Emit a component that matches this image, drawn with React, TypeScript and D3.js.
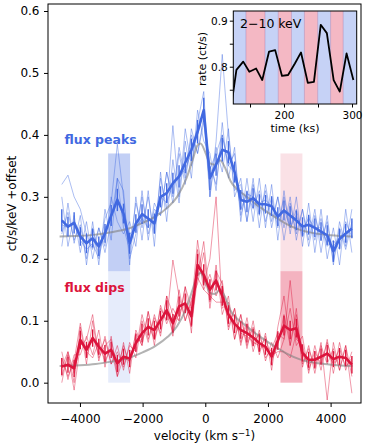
import React, { useEffect, useRef } from "react";
import * as d3 from "d3";

const width = 365;
const height = 447;
// main axes box: 48..361 x 4..403
const margin = { top: 4, right: 4, bottom: 44, left: 48 };
// inset axes box
const inset = { x0: 233.3, x1: 356.7, y0: 11, y1: 104 };

const font = "'DejaVu Sans', Verdana, sans-serif";
const blue = "#4169e1";
const red = "#dc143c";

// velocity bin centres (km/s)
const velocity = [
  -4580, -4383, -4186, -3989, -3792, -3595, -3398, -3201, -3004, -2807, -2610, -2413,
  -2216, -2019, -1822, -1625, -1428, -1231, -1034, -837, -640, -443, -246, -49,
  148, 345, 542, 739, 936, 1133, 1330, 1527, 1724, 1921, 2118, 2315,
  2512, 2709, 2906, 3103, 3300, 3497, 3694, 3891, 4088, 4285, 4482, 4679,
];

// flux peaks: stacked mean (+offset) and its errors
const peaksMean = [
  0.262, 0.252, 0.258, 0.236, 0.225, 0.233, 0.22, 0.241, 0.27, 0.295, 0.273, 0.225,
  0.257, 0.272, 0.265, 0.257, 0.3, 0.306, 0.322, 0.333, 0.355, 0.376, 0.405, 0.44,
  0.33, 0.352, 0.376, 0.372, 0.34, 0.295, 0.292, 0.298, 0.288, 0.288, 0.285, 0.268,
  0.278, 0.27, 0.262, 0.252, 0.255, 0.25, 0.244, 0.238, 0.212, 0.232, 0.241, 0.249,
];
const peaksErr = [
  0.018, 0.016, 0.017, 0.015, 0.016, 0.015, 0.016, 0.015, 0.017, 0.018, 0.016, 0.017,
  0.015, 0.016, 0.015, 0.016, 0.017, 0.016, 0.017, 0.018, 0.017, 0.018, 0.019, 0.02,
  0.019, 0.018, 0.019, 0.018, 0.017, 0.016, 0.017, 0.016, 0.016, 0.015, 0.016, 0.015,
  0.016, 0.015, 0.016, 0.015, 0.016, 0.015, 0.015, 0.016, 0.017, 0.016, 0.015, 0.016,
];
// individual spectra of the flux peaks
const peaks1 = [
  0.32, 0.335, 0.3, 0.28, 0.24, 0.215, 0.25, 0.21, 0.26, 0.33, 0.25, 0.215,
  0.29, 0.25, 0.3, 0.24, 0.33, 0.28, 0.415, 0.3, 0.41, 0.35, 0.42, 0.47,
  0.3, 0.38, 0.34, 0.41, 0.3, 0.33, 0.26, 0.32, 0.27, 0.31, 0.25, 0.3,
  0.23, 0.29, 0.24, 0.28, 0.22, 0.27, 0.23, 0.26, 0.195, 0.25, 0.215, 0.26,
];
const peaks2 = [
  0.24, 0.275, 0.23, 0.255, 0.2, 0.25, 0.205, 0.265, 0.29, 0.385, 0.3, 0.2,
  0.24, 0.3, 0.24, 0.28, 0.27, 0.34, 0.3, 0.38, 0.33, 0.4, 0.37, 0.42,
  0.35, 0.32, 0.4, 0.35, 0.37, 0.27, 0.31, 0.28, 0.31, 0.26, 0.3, 0.25,
  0.3, 0.25, 0.28, 0.235, 0.27, 0.23, 0.265, 0.22, 0.23, 0.215, 0.26, 0.235,
];
const peaks3 = [
  0.22, 0.29, 0.225, 0.27, 0.19, 0.26, 0.19, 0.28, 0.23, 0.33, 0.31, 0.19,
  0.3, 0.23, 0.31, 0.22, 0.34, 0.26, 0.36, 0.29, 0.39, 0.33, 0.44, 0.39,
  0.37, 0.31, 0.42, 0.33, 0.38, 0.26, 0.33, 0.26, 0.33, 0.25, 0.32, 0.23,
  0.31, 0.24, 0.3, 0.22, 0.29, 0.21, 0.28, 0.2, 0.25, 0.19, 0.28, 0.21,
];
const peaks4 = [
  0.3, 0.22, 0.27, 0.21, 0.26, 0.2, 0.25, 0.22, 0.3, 0.26, 0.24, 0.26,
  0.22, 0.31, 0.23, 0.29, 0.27, 0.34, 0.29, 0.37, 0.32, 0.41, 0.37, 0.43,
  0.3, 0.39, 0.53, 0.4, 0.31, 0.32, 0.26, 0.33, 0.25, 0.32, 0.26, 0.3,
  0.25, 0.3, 0.23, 0.28, 0.23, 0.28, 0.21, 0.27, 0.19, 0.26, 0.22, 0.28,
];
const peaks5 = [
  0.255, 0.25, 0.26, 0.23, 0.215, 0.225, 0.2, 0.25, 0.265, 0.3, 0.265, 0.24,
  0.25, 0.265, 0.25, 0.27, 0.3, 0.29, 0.32, 0.33, 0.345, 0.37, 0.4, 0.44,
  0.345, 0.37, 0.4, 0.35, 0.34, 0.28, 0.305, 0.3, 0.29, 0.295, 0.285, 0.265,
  0.28, 0.25, 0.27, 0.245, 0.265, 0.25, 0.25, 0.225, 0.22, 0.235, 0.24, 0.25,
];

// flux dips: stacked mean and its errors
const dipsMean = [
  0.026, 0.029, 0.023, 0.069, 0.053, 0.072, 0.058, 0.047, 0.053, 0.031, 0.042, 0.039,
  0.064, 0.08, 0.09, 0.085, 0.101, 0.117, 0.096, 0.123, 0.128, 0.107, 0.19, 0.174,
  0.15, 0.165, 0.14, 0.11, 0.095, 0.085, 0.08, 0.073, 0.064, 0.058, 0.042, 0.068,
  0.092, 0.085, 0.088, 0.048, 0.037, 0.037, 0.042, 0.047, 0.038, 0.042, 0.04, 0.029,
];
const dipsErr = [
  0.014, 0.013, 0.014, 0.015, 0.013, 0.014, 0.013, 0.014, 0.013, 0.014, 0.013, 0.014,
  0.014, 0.015, 0.014, 0.015, 0.015, 0.016, 0.015, 0.016, 0.016, 0.015, 0.018, 0.017,
  0.017, 0.016, 0.016, 0.015, 0.015, 0.014, 0.015, 0.014, 0.014, 0.013, 0.014, 0.015,
  0.016, 0.015, 0.015, 0.014, 0.013, 0.014, 0.013, 0.014, 0.013, 0.014, 0.013, 0.014,
];
const dips1 = [
  0.04, 0.01, 0.035, 0.096, 0.04, 0.075, 0.045, 0.07, 0.03, 0.05, 0.025, 0.06,
  0.05, 0.11, 0.07, 0.105, 0.08, 0.14, 0.11, 0.1, 0.155, 0.12, 0.23, 0.16,
  0.2, 0.3, 0.12, 0.13, 0.07, 0.11, 0.06, 0.09, 0.05, 0.075, 0.035, 0.06,
  0.11, 0.06, 0.12, 0.03, 0.055, 0.025, 0.06, 0.03, 0.055, 0.02, 0.06, -0.017,
];
const dips2 = [
  0.01, 0.045, -0.012, 0.06, 0.07, 0.11, 0.04, 0.06, 0.07, 0.02, 0.06, 0.03,
  0.08, 0.06, 0.115, 0.07, 0.12, 0.1, 0.198, 0.14, 0.1, 0.13, 0.17, 0.228,
  0.13, 0.18, 0.16, 0.09, 0.12, 0.065, 0.095, 0.06, 0.08, 0.04, 0.055, 0.08,
  0.07, 0.165, 0.07, 0.06, 0.02, 0.05, 0.03, 0.065, 0.03, 0.055, 0.025, 0.04,
];
const dips3 = [
  0.0, 0.05, 0.0, 0.09, 0.03, 0.1, 0.035, 0.075, 0.03, 0.06, 0.02, 0.065,
  0.04, 0.1, 0.065, 0.11, 0.075, 0.14, 0.075, 0.15, 0.1, 0.135, 0.16, 0.21,
  0.12, 0.19, 0.11, 0.14, 0.07, 0.11, 0.055, 0.1, 0.045, 0.08, 0.02, 0.09,
  0.14, 0.06, 0.11, 0.025, 0.06, 0.015, 0.065, -0.028, 0.065, 0.02, 0.06, 0.01,
];
const dips4 = [
  0.05, 0.005, 0.045, 0.045, 0.075, 0.045, 0.085, 0.025, 0.075, 0.01, 0.065, 0.015,
  0.085, 0.06, 0.115, 0.06, 0.125, 0.095, 0.12, 0.1, 0.155, 0.08, 0.215, 0.15,
  0.175, 0.14, 0.165, 0.085, 0.12, 0.06, 0.105, 0.05, 0.085, 0.035, 0.065, 0.04,
  0.07, 0.12, 0.06, 0.075, 0.015, 0.06, 0.02, 0.07, 0.015, 0.065, 0.02, 0.05,
];
const dips5 = [
  0.025, 0.05, 0.015, 0.065, 0.05, 0.04, 0.065, 0.035, 0.055, 0.01, 0.04, 0.035,
  0.065, 0.07, 0.095, 0.07, 0.1, 0.115, 0.08, 0.115, 0.125, 0.09, 0.17, 0.15,
  0.14, 0.13, 0.13, 0.11, 0.09, 0.08, 0.075, 0.065, 0.06, 0.055, 0.045, 0.05,
  0.05, 0.04, 0.08, 0.045, 0.03, 0.04, 0.04, 0.05, 0.03, 0.04, 0.04, 0.03,
];

// smooth line model (grey)
const modelVelocity = [
  -4650, -4000, -3500, -3000, -2500, -2000, -1600, -1200, -900, -600, -400, -250, -150,
  0, 150, 300, 470, 650, 800, 1000, 1200, 1700, 2200, 2600, 3000, 3500, 4000, 4700,
];
const peaksModel = [
  0.236, 0.237, 0.239, 0.243, 0.248, 0.258, 0.268, 0.283, 0.3, 0.33, 0.36, 0.383, 0.386,
  0.372, 0.354, 0.352, 0.359, 0.345, 0.326, 0.313, 0.305, 0.285, 0.268, 0.256, 0.247, 0.241, 0.238, 0.236,
];
const dipsModel = [
  0.027, 0.028, 0.03, 0.034, 0.039, 0.049, 0.059, 0.074, 0.091, 0.121, 0.151, 0.174, 0.177,
  0.163, 0.145, 0.143, 0.15, 0.136, 0.117, 0.104, 0.096, 0.076, 0.059, 0.047, 0.038, 0.032, 0.029, 0.027,
];

// highlighted velocity windows and the two level bands
const peakWindow = [-3100, -2400];
const dipWindow = [2400, 3100];
const bandLevels = [0, 0.18, 0.37];

// inset: 2-10 keV light curve
const lcTime = [
  121, 130, 140, 149, 159, 168, 178, 187, 197, 206, 216, 225, 235, 244, 254, 263, 273, 282, 292, 302,
];
const lcRate = [
  0.7, 0.793, 0.811, 0.789, 0.796, 0.771, 0.833, 0.836, 0.78, 0.782, 0.807, 0.831, 0.765, 0.767,
  0.891, 0.873, 0.771, 0.746, 0.829, 0.771,
];
const intervalEdges = [125, 144, 172, 191.5, 211, 230, 249.5, 268.5, 287, 308];
const intervalKind = ["peak", "dip", "peak", "dip", "peak", "dip", "peak", "dip", "peak"];

const yTicks = [0, 0.1, 0.2, 0.3, 0.4, 0.5, 0.6];
const xTicks = [-4000, -2000, 0, 2000, 4000];
const insetXTicks = [150, 200, 250, 300];
const insetYTicks = [0.75, 0.8, 0.85, 0.9];

export default function App() {
  const xAxisRef = useRef<SVGGElement>(null);
  const yAxisRef = useRef<SVGGElement>(null);
  const ixAxisRef = useRef<SVGGElement>(null);
  const iyAxisRef = useRef<SVGGElement>(null);

  const x = d3
    .scaleLinear()
    .domain([-5020, 4970])
    .range([margin.left, width - margin.right]);
  const y = d3
    .scaleLinear()
    .domain([-0.0328, 0.6113])
    .range([height - margin.bottom, margin.top]);

  const ix = d3.scaleLinear().domain([125.4, 306.9]).range([inset.x0, inset.x1]);
  const iy = d3.scaleLinear().domain([0.719, 0.921]).range([inset.y1, inset.y0]);

  const line = d3
    .line<number>()
    .x((d, i) => x(velocity[i]))
    .y((d) => y(d));
  const modelLine = d3
    .line<number>()
    .x((d, i) => x(modelVelocity[i]))
    .y((d) => y(d))
    .curve(d3.curveMonotoneX);
  const lcLine = d3
    .line<number>()
    .x((d, i) => ix(lcTime[i]))
    .y((d) => iy(d));

  useEffect(() => {
    const style = (g: any, size: number) => {
      g.select(".domain").remove();
      g.selectAll("text")
        .attr("font-family", font)
        .attr("font-size", size)
        .attr("fill", "black");
      g.selectAll("line").attr("stroke", "black").attr("stroke-width", 1);
    };

    const xAxis = d3
      .axisBottom(x)
      .tickValues(xTicks)
      .tickFormat(d3.format("d") as any)
      .tickSizeInner(4)
      .tickSizeOuter(0)
      .tickPadding(7.5);
    d3.select(xAxisRef.current).call(xAxis as any).call((g) => style(g, 12));

    const yAxis = d3
      .axisLeft(y)
      .tickValues(yTicks)
      .tickFormat(d3.format(".1f") as any)
      .tickSizeInner(4)
      .tickSizeOuter(0)
      .tickPadding(4.5);
    d3.select(yAxisRef.current).call(yAxis as any).call((g) => style(g, 12));

    const ixAxis = d3
      .axisBottom(ix)
      .tickValues(insetXTicks)
      .tickFormat((d: any) => (d % 100 === 0 ? String(d) : ""))
      .tickSizeInner(3.5)
      .tickSizeOuter(0)
      .tickPadding(4);
    d3.select(ixAxisRef.current).call(ixAxis as any).call((g) => style(g, 10.5));

    const iyAxis = d3
      .axisLeft(iy)
      .tickValues(insetYTicks)
      .tickFormat((d: any) => (Math.round(d * 100) % 10 === 0 ? d3.format(".1f")(d) : ""))
      .tickSizeInner(3.5)
      .tickSizeOuter(0)
      .tickPadding(2);
    d3.select(iyAxisRef.current).call(iyAxis as any).call((g) => style(g, 10.5));
  }, []);

  const plotW = width - margin.left - margin.right;
  const plotH = height - margin.top - margin.bottom;

  const peaksSpectra = [peaks1, peaks2, peaks3, peaks4, peaks5];
  const dipsSpectra = [dips1, dips2, dips3, dips4, dips5];

  const bands = [
    { win: peakWindow, lo: bandLevels[1], hi: bandLevels[2], fill: blue, op: 0.32 },
    { win: peakWindow, lo: bandLevels[0], hi: bandLevels[1], fill: blue, op: 0.13 },
    { win: dipWindow, lo: bandLevels[1], hi: bandLevels[2], fill: red, op: 0.13 },
    { win: dipWindow, lo: bandLevels[0], hi: bandLevels[1], fill: red, op: 0.32 },
  ];

  const series = [
    { mean: peaksMean, err: peaksErr, spectra: peaksSpectra, model: peaksModel, color: blue },
    { mean: dipsMean, err: dipsErr, spectra: dipsSpectra, model: dipsModel, color: red },
  ];

  return (
    <svg
      width={width}
      height={height}
      style={{ position: "absolute", left: 0, top: 0, background: "white" }}
      fontFamily={font}
    >
      <defs>
        <clipPath id="main-clip">
          <rect x={margin.left} y={margin.top} width={plotW} height={plotH} />
        </clipPath>
        <clipPath id="inset-clip">
          <rect x={inset.x0} y={inset.y0} width={inset.x1 - inset.x0} height={inset.y1 - inset.y0} />
        </clipPath>
      </defs>
      <rect width={width} height={height} fill="white" />

      <g clipPath="url(#main-clip)">
        {bands.map((b, i) => (
          <rect
            key={i}
            x={x(b.win[0])}
            width={x(b.win[1]) - x(b.win[0])}
            y={y(b.hi)}
            height={y(b.lo) - y(b.hi)}
            fill={b.fill}
            fillOpacity={b.op}
          />
        ))}
        {series.map((s, si) => (
          <g key={si}>
            {s.spectra.map((sp, k) => (
              <path
                key={k}
                d={line(sp) || ""}
                fill="none"
                stroke={s.color}
                strokeOpacity={0.55}
                strokeWidth={0.8}
              />
            ))}
          </g>
        ))}
        {series.map((s, si) => (
          <path
            key={"m" + si}
            d={modelLine(s.model) || ""}
            fill="none"
            stroke="gray"
            strokeOpacity={0.6}
            strokeWidth={2}
          />
        ))}
        {series.map((s, si) => (
          <g key={"t" + si}>
            {s.mean.map((v, i) => (
              <line
                key={i}
                x1={x(velocity[i])}
                x2={x(velocity[i])}
                y1={y(v - s.err[i])}
                y2={y(v + s.err[i])}
                stroke={s.color}
                strokeWidth={1.4}
              />
            ))}
            <path
              d={line(s.mean) || ""}
              fill="none"
              stroke={s.color}
              strokeWidth={2.6}
              strokeLinejoin="round"
            />
          </g>
        ))}
      </g>

      <text x={64.5} y={144} fontSize={12.5} fontWeight="bold" fill={blue}>
        flux peaks
      </text>
      <text x={64.5} y={292} fontSize={12.5} fontWeight="bold" fill={red}>
        flux dips
      </text>

      <rect
        x={margin.left}
        y={margin.top}
        width={plotW}
        height={plotH}
        fill="none"
        stroke="black"
        strokeWidth={1}
      />
      <g ref={xAxisRef} transform={`translate(0,${height - margin.bottom})`} />
      <g ref={yAxisRef} transform={`translate(${margin.left},0)`} />

      <text x={204.5} y={440} fontSize={12} textAnchor="middle">
        velocity (km s
        <tspan dy={-4.5} fontSize={8.5}>
          −1
        </tspan>
        <tspan dy={4.5}>)</tspan>
      </text>
      <text transform="translate(15.5,203.5) rotate(-90)" fontSize={12} textAnchor="middle">
        ct/s/keV +offset
      </text>

      {/* inset light curve */}
      <g>
        <rect
          x={inset.x0}
          y={inset.y0}
          width={inset.x1 - inset.x0}
          height={inset.y1 - inset.y0}
          fill="white"
        />
        <g clipPath="url(#inset-clip)">
          {intervalKind.map((k, i) => (
            <rect
              key={i}
              x={ix(intervalEdges[i])}
              width={ix(intervalEdges[i + 1]) - ix(intervalEdges[i])}
              y={inset.y0}
              height={inset.y1 - inset.y0}
              fill={k === "peak" ? blue : red}
              fillOpacity={0.3}
            />
          ))}
          {intervalEdges.slice(1, -1).map((t, i) => (
            <line
              key={i}
              x1={ix(t)}
              x2={ix(t)}
              y1={inset.y0}
              y2={inset.y1}
              stroke="#9a70a8"
              strokeOpacity={0.35}
              strokeWidth={1}
            />
          ))}
          <path
            d={lcLine(lcRate) || ""}
            fill="none"
            stroke="black"
            strokeWidth={1.8}
            strokeLinejoin="round"
          />
        </g>
        <rect
          x={inset.x0}
          y={inset.y0}
          width={inset.x1 - inset.x0}
          height={inset.y1 - inset.y0}
          fill="none"
          stroke="black"
          strokeWidth={1}
        />
        <g ref={ixAxisRef} transform={`translate(0,${inset.y1})`} />
        <g ref={iyAxisRef} transform={`translate(${inset.x0},0)`} />
        <text x={240} y={28} fontSize={12.5}>
          2−10 keV
        </text>
        <text x={295} y={132} fontSize={11} textAnchor="middle">
          time (ks)
        </text>
        <text transform="translate(206,59) rotate(-90)" fontSize={11} textAnchor="middle">
          rate (ct/s)
        </text>
      </g>
    </svg>
  );
}
